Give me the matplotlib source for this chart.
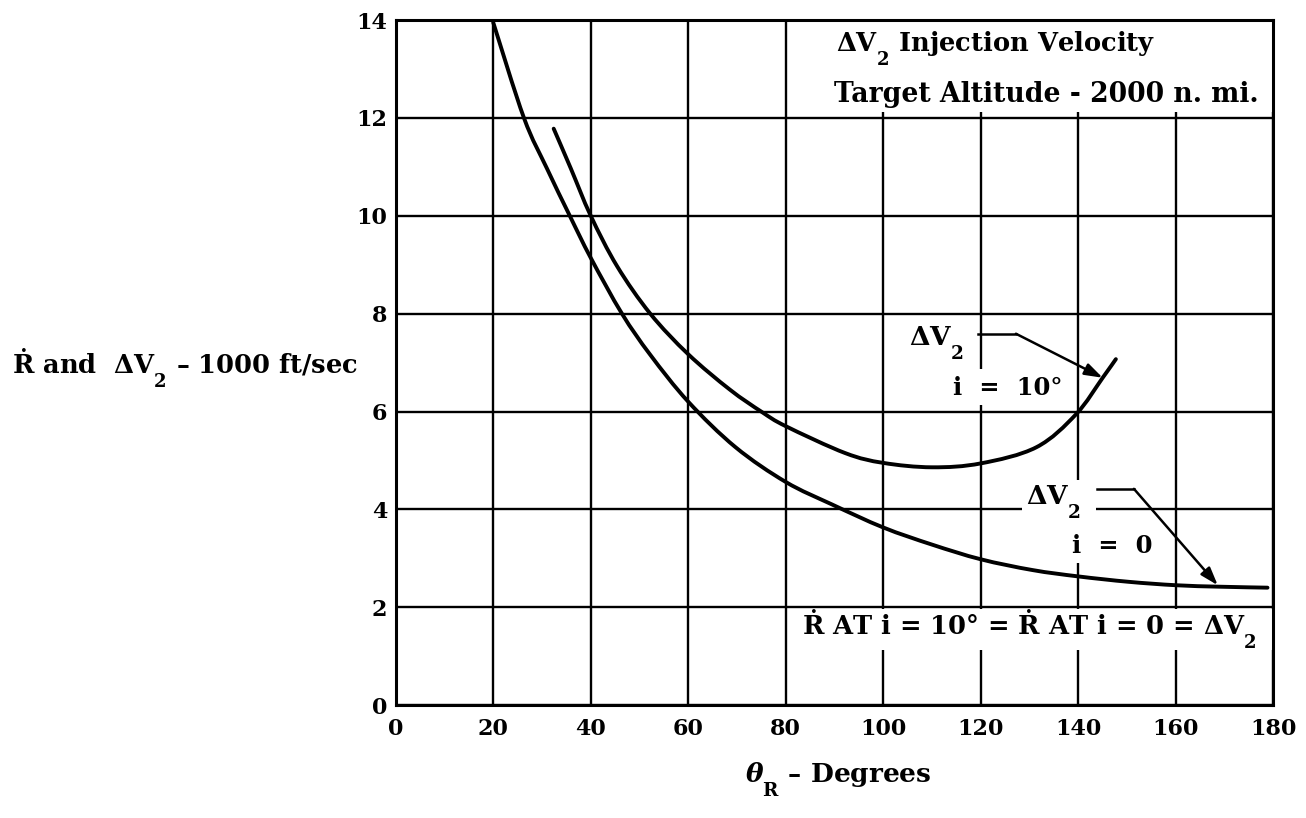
import matplotlib
matplotlib.use("Agg")
import matplotlib.pyplot as plt
from matplotlib.patches import Rectangle, PathPatch
from matplotlib.path import Path
import matplotlib._mathtext as mt

plt.rcParams['font.family'] = ['DejaVu Serif', 'DejaVu Sans']
plt.rcParams['font.weight'] = 'bold'
plt.rcParams['mathtext.fontset'] = 'custom'
plt.rcParams['mathtext.rm'] = 'DejaVu Serif:bold'
plt.rcParams['mathtext.bf'] = 'DejaVu Serif:bold'
plt.rcParams['mathtext.it'] = 'DejaVu Serif:italic:bold'
# the old typeset subscripts sit well below the baseline
mt.FontConstantsBase.sub1 = 1.05

# curve: delta V2 at i = 0
x_i0 = [20, 26.3, 31.0, 35.7, 40, 46.4, 52.2, 60, 69.7, 80, 89.5, 100, 110,
        120, 130.6, 140, 150.3, 160, 168.9, 178.8]
y_i0 = [13.95, 12.0, 10.97, 10.0, 9.14, 8.0, 7.16, 6.2, 5.27, 4.56, 4.1, 3.63, 3.28,
        2.98, 2.76, 2.63, 2.52, 2.45, 2.42, 2.4]

# delta V2 at i = 10 deg
x_i10 = [32.4, 35.9, 40, 45.4, 52.2, 60, 68.5, 75.1, 80, 92.2, 100, 110, 120, 131.4,
         139.5, 145.0, 147.7]
y_i10 = [11.78, 10.97, 10.0, 8.97, 8.0, 7.17, 6.45, 5.99, 5.7, 5.15, 4.95, 4.86, 4.94, 5.27,
         5.94, 6.69, 7.07]

xticks = list(range(0, 181, 20))
yticks = list(range(0, 15, 2))

dv2 = r"$\Delta\mathrm{V}_2$"


def smooth_path(xs, ys):
    # catmull-rom through the read points, as bezier segments
    pts = list(zip(xs, ys))
    verts = [pts[0]]
    codes = [Path.MOVETO]
    for i in range(len(pts) - 1):
        p0 = pts[i - 1] if i > 0 else pts[i]
        p1 = pts[i]
        p2 = pts[i + 1]
        p3 = pts[i + 2] if i + 2 < len(pts) else pts[i + 1]
        c1 = (p1[0] + (p2[0] - p0[0]) / 6, p1[1] + (p2[1] - p0[1]) / 6)
        c2 = (p2[0] - (p3[0] - p1[0]) / 6, p2[1] - (p3[1] - p1[1]) / 6)
        verts += [c1, c2, p2]
        codes += [Path.CURVE4] * 3
    return Path(verts, codes)


fig = plt.figure(figsize=(13.06, 8.18), dpi=100)
ax = fig.add_axes([0.303, 0.138, 0.672, 0.8375])

ax.set_xlim(0, 180)
ax.set_ylim(0, 14)
ax.set_xticks(xticks)
ax.set_yticks(yticks)
ax.tick_params(length=0, labelsize=16, pad=6)
ax.tick_params(axis='x', pad=9)
ax.grid(True, color='black', lw=1.7)
for s in ax.spines.values():
    s.set_linewidth(2.2)

# white panels for the notes, and gaps in the grid round the labels
white = dict(facecolor='white', edgecolor='none', zorder=1.6)
ax.add_patch(Rectangle((80.4, 12.12), 99.6, 1.88, **white))
ax.add_patch(Rectangle((80.4, 1.12), 99.6, 0.84, **white))
ax.add_patch(Rectangle((118.8, 6.14), 2.4, 0.72, **white))
ax.add_patch(Rectangle((138.8, 2.9), 2.4, 1.7, **white))
ax.add_patch(Rectangle((128.4, 3.85), 15.3, 0.3, **white))

for xs, ys in [(x_i0, y_i0), (x_i10, y_i10)]:
    ax.add_patch(PathPatch(smooth_path(xs, ys), facecolor='none', edgecolor='black',
                           lw=2.8, capstyle='round', zorder=3))

ax.text(90.3, 13.37, dv2 + " Injection Velocity", fontsize=18.5, ha='left', va='baseline', zorder=4)
ax.text(89.9, 12.32, "Target Altitude - 2000 n. mi.", fontsize=19.2, ha='left', va='baseline', zorder=4)
ax.text(83.4, 1.44, "Ṙ AT i = 10° = Ṙ AT i = 0 = " + dv2, fontsize=18.5, ha='left', va='baseline',
        zorder=4)

# labels with leaders
ax.text(105.2, 7.35, dv2, fontsize=19, ha='left', va='baseline', zorder=4)
ax.text(125.5, 6.33, "i  =  10°", fontsize=17.5, ha='center', va='baseline', zorder=4)
ax.plot([119.4, 127.2], [7.59, 7.59], color='black', lw=1.8, zorder=3)
ax.annotate("", xy=(145.0, 6.69), xytext=(127.2, 7.59),
            arrowprops=dict(arrowstyle='-|>,head_length=0.6,head_width=0.2', color='black', lw=1.8,
                            mutation_scale=18, shrinkA=0, shrinkB=0), zorder=3)

ax.text(129.3, 4.11, dv2, fontsize=19, ha='left', va='baseline', zorder=4)
ax.text(146.9, 3.10, "i  =  0", fontsize=17.5, ha='center', va='baseline', zorder=4)
ax.plot([143.9, 151.4], [4.42, 4.42], color='black', lw=1.8, zorder=3)
ax.annotate("", xy=(168.6, 2.45), xytext=(151.4, 4.42),
            arrowprops=dict(arrowstyle='-|>,head_length=0.6,head_width=0.2', color='black', lw=1.8,
                            mutation_scale=18, shrinkA=0, shrinkB=0), zorder=3)

fig.text(0.1417, 0.544, "Ṙ and  " + dv2 + " – 1000 ft/sec", fontsize=18.5, ha='center', va='baseline')
fig.text(0.6417, 0.044, r"$\theta_\mathrm{R}$ – Degrees", fontsize=19, ha='center', va='baseline')

fig.savefig("out.png", dpi=100)
